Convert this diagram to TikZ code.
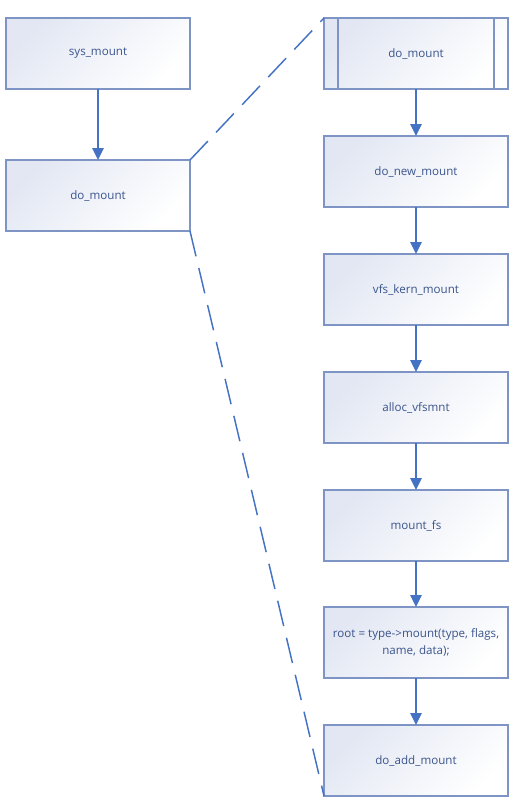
\documentclass[tikz,border=0pt]{standalone}
\usepackage{fontspec}
\setmainfont{Open Sans}
\usetikzlibrary{arrows.meta}
\definecolor{lineblue}{RGB}{68,114,196}
\definecolor{edgeblue}{RGB}{125,148,196}
\definecolor{boxfill}{RGB}{226,231,243}
\definecolor{textblue}{RGB}{58,84,140}
\tikzset{
  func/.style={draw=edgeblue, line width=1.1pt, top color=boxfill, bottom color=white,
    shading angle=45, minimum width=138pt, minimum height=53.25pt, inner sep=0pt,
    outer sep=0pt, text=textblue, align=center, font=\fontsize{8.7}{13}\selectfont},
  call/.style={draw=lineblue, line width=1.4pt, -{Triangle[length=9pt, width=8.5pt]}},
  zoomline/.style={draw=lineblue, line width=1.1pt, dash pattern=on 19.5pt off 9pt}
}
\begin{document}
\begin{tikzpicture}[x=0.75pt, y=-0.75pt]
\useasboundingbox (0,0) rectangle (519,807);
% lewa kolumna
\node[func] (sysmount) at (98,53.5) {sys\_mount};
\node[func] (lmount) at (98,195.5) {do\_mount};
\draw[call] (sysmount) -- (lmount);
% prawa kolumna
\node[func] (dmount) at (416,53.5) {do\_mount};
\draw[edgeblue, line width=1.1pt] ([xshift=10.5pt]dmount.north west) -- ([xshift=10.5pt]dmount.south west)
  ([xshift=-10.5pt]dmount.north east) -- ([xshift=-10.5pt]dmount.south east);
\node[func] (newmount) at (416,171.5) {do\_new\_mount};
\node[func] (kernmount) at (416,289.5) {vfs\_kern\_mount};
\node[func] (alloc) at (416,407.5) {alloc\_vfsmnt};
\node[func] (mountfs) at (416,525.5) {mount\_fs};
\node[func] (root) at (416,642.5) {root = type-\textgreater mount(type, flags,\\name, data);};
\node[func] (addmount) at (416,760.5) {do\_add\_mount};
\foreach \a/\b in {dmount/newmount, newmount/kernmount, kernmount/alloc,
                   alloc/mountfs, mountfs/root, root/addmount}
	\draw[call] (\a) -- (\b);
% rozwiniecie
\draw[zoomline] (lmount.north east) -- (dmount.north west);
\draw[zoomline] (lmount.south east) -- (addmount.south west);
\end{tikzpicture}
\end{document}
